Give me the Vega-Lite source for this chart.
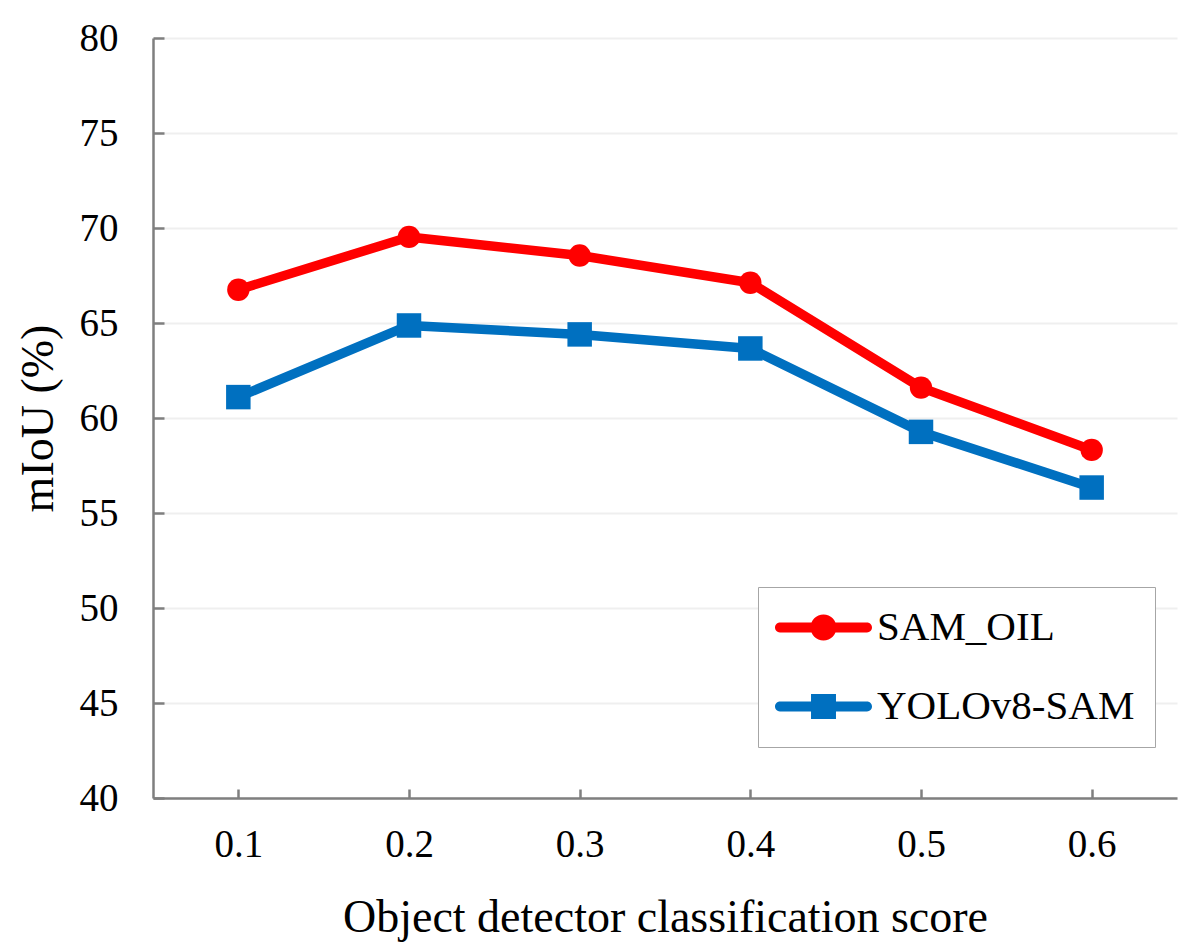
{
  "$schema": "https://vega.github.io/schema/vega-lite/v6.json",
  "width": 1024,
  "height": 760,
  "autosize": "none",
  "padding": {"left": 153, "top": 38, "right": 25, "bottom": 154},
  "background": "white",
  "data": {
    "values": [
      {"score": "0.1", "method": "SAM_OIL", "miou": 66.75},
      {"score": "0.2", "method": "SAM_OIL", "miou": 69.53},
      {"score": "0.3", "method": "SAM_OIL", "miou": 68.55},
      {"score": "0.4", "method": "SAM_OIL", "miou": 67.12},
      {"score": "0.5", "method": "SAM_OIL", "miou": 61.6},
      {"score": "0.6", "method": "SAM_OIL", "miou": 58.32},
      {"score": "0.1", "method": "YOLOv8-SAM", "miou": 61.1},
      {"score": "0.2", "method": "YOLOv8-SAM", "miou": 64.87},
      {"score": "0.3", "method": "YOLOv8-SAM", "miou": 64.4},
      {"score": "0.4", "method": "YOLOv8-SAM", "miou": 63.66},
      {"score": "0.5", "method": "YOLOv8-SAM", "miou": 59.27},
      {"score": "0.6", "method": "YOLOv8-SAM", "miou": 56.34}
    ]
  },
  "config": {
    "font": "Liberation Serif",
    "view": {"stroke": null},
    "axis": {
      "domainColor": "#7f7f7f",
      "domainWidth": 2.5,
      "tickColor": "#7f7f7f",
      "tickWidth": 2.5,
      "labelColor": "black",
      "labelFont": "Liberation Serif",
      "labelFontSize": 39,
      "titleFont": "Liberation Serif",
      "titleFontSize": 46,
      "titleFontWeight": "normal",
      "titleColor": "black"
    }
  },
  "encoding": {
    "x": {
      "field": "score",
      "type": "ordinal",
      "scale": {"type": "point", "padding": 0.5},
      "axis": {
        "title": "Object detector classification score",
        "labelAngle": 0,
        "tickSize": -9,
        "labelPadding": 36,
        "titlePadding": 31,
        "grid": false
      }
    },
    "y": {
      "field": "miou",
      "type": "quantitative",
      "scale": {"domain": [40, 80], "nice": false, "zero": false},
      "axis": {
        "title": "mIoU (%)",
        "values": [40, 45, 50, 55, 60, 65, 70, 75, 80],
        "tickSize": -11,
        "labelPadding": 46,
        "titlePadding": 17,
        "grid": true,
        "gridColor": "#efefef",
        "gridWidth": 2
      }
    },
    "color": {
      "field": "method",
      "type": "nominal",
      "scale": {"domain": ["SAM_OIL", "YOLOv8-SAM"], "range": ["#ff0000", "#0070c0"]},
      "legend": {
        "title": null,
        "orient": "none",
        "legendX": 605,
        "legendY": 549,
        "labelFont": "Liberation Serif",
        "labelFontSize": 41,
        "labelColor": "black",
        "labelLimit": 600,
        "symbolSize": 676,
        "symbolStrokeWidth": 0,
        "symbolOpacity": 1,
        "symbolOffset": 25,
        "labelOffset": 33,
        "padding": 20,
        "rowPadding": 37,
        "strokeColor": "#a6a6a6",
        "fillColor": "white",
        "encode": {
          "symbols": {
            "update": {
              "shape": {"signal": "datum.value === 'SAM_OIL' ? 'M-3.35,-0.38H3.35A0.38,0.38 0 0,1 3.35,0.38H-3.35A0.38,0.38 0 0,1 -3.35,-0.38Z M-1,0A1,1 0 1,1 1,0A1,1 0 1,1 -1,0Z' : 'M-3.35,-0.38H3.35A0.38,0.38 0 0,1 3.35,0.38H-3.35A0.38,0.38 0 0,1 -3.35,-0.38Z M-0.96,-0.96H0.96V0.96H-0.96Z'"},
              "strokeWidth": {"value": 0}
            }
          }
        }
      }
    }
  },
  "layer": [
    {
      "mark": {"type": "line", "strokeWidth": 9.5, "strokeCap": "round", "strokeJoin": "round"}
    },
    {
      "transform": [{"filter": "datum.method === 'SAM_OIL'"}],
      "mark": {"type": "point", "filled": true, "opacity": 1, "size": 500, "shape": "circle"}
    },
    {
      "transform": [{"filter": "datum.method === 'YOLOv8-SAM'"}],
      "mark": {"type": "point", "filled": true, "opacity": 1, "size": 600, "shape": "square"}
    }
  ]
}
